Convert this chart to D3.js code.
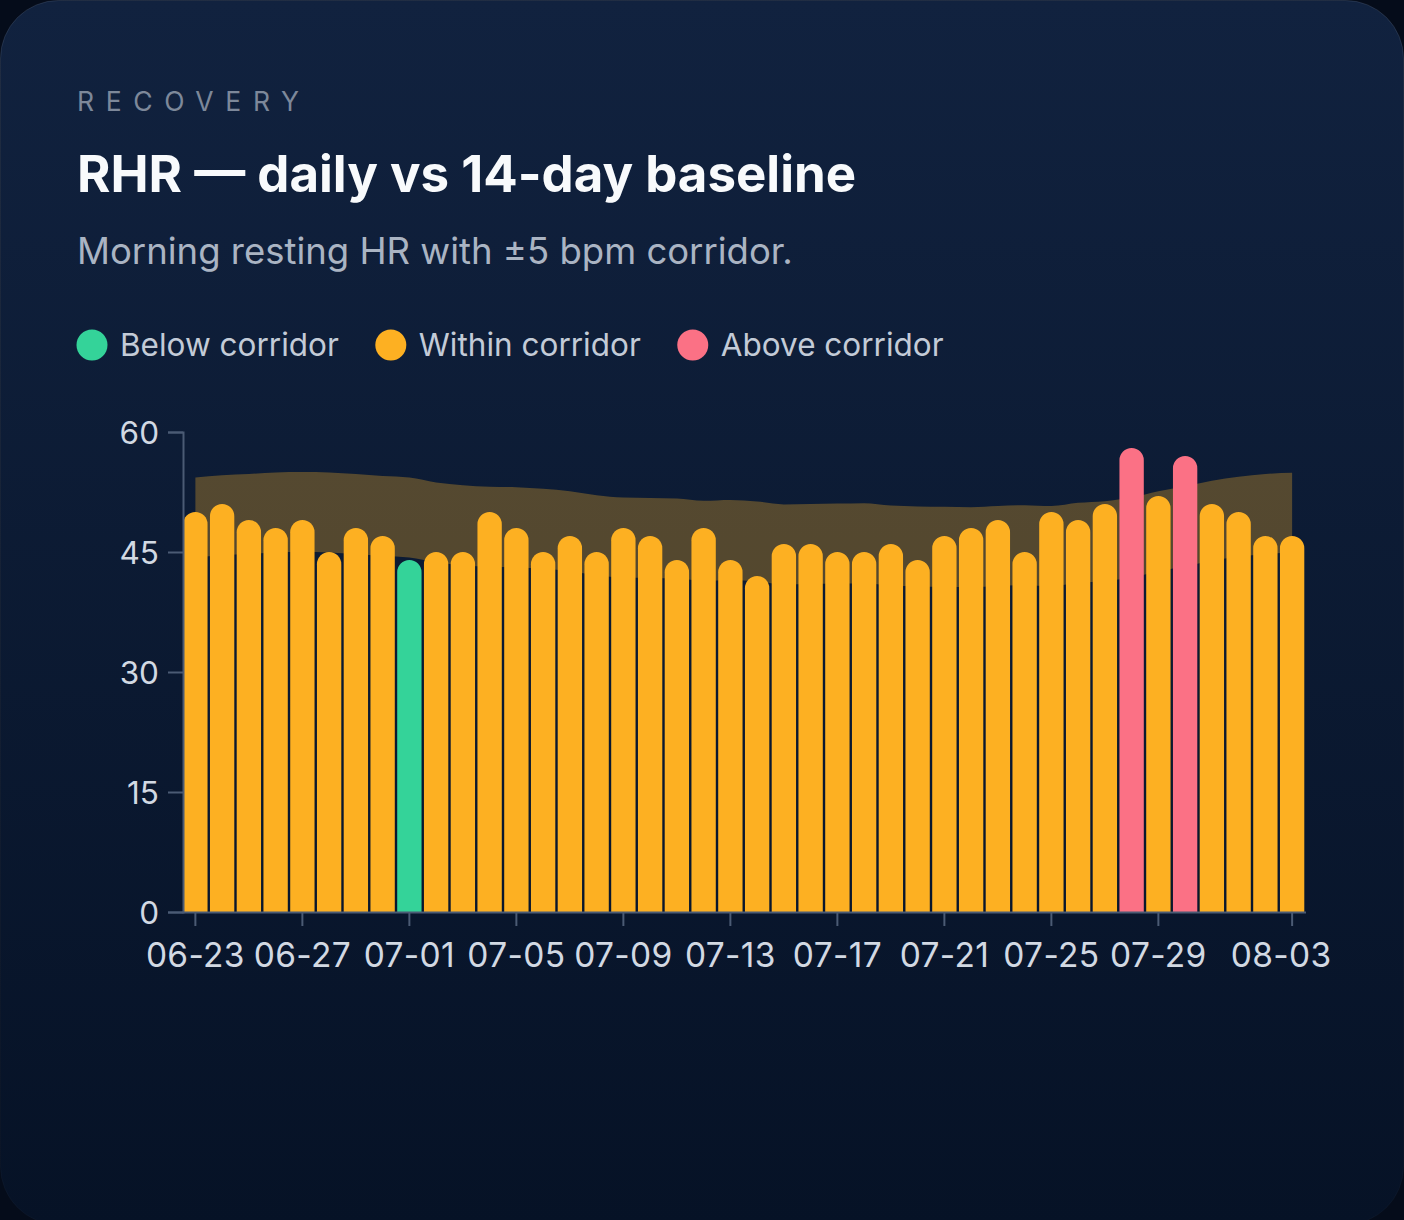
<!DOCTYPE html>
<html>
<head>
<meta charset="utf-8">
<script src="https://cdn.jsdelivr.net/npm/d3@7"></script>
<style>
  html, body { margin: 0; padding: 0; background: #050c1a; }
  svg { display: block; font-family: Inter, "Noto Sans", sans-serif; }
</style>
</head>
<body>
<svg id="chart" width="1404" height="1220"></svg>
<script>
// daily values, 06-23 .. 08-03
const days = [
  "06-23", "06-24", "06-25", "06-26", "06-27", "06-28", "06-29", "06-30",
  "07-01", "07-02", "07-03", "07-04", "07-05", "07-06", "07-07", "07-08",
  "07-09", "07-10", "07-11", "07-12", "07-13", "07-14", "07-15", "07-16",
  "07-17", "07-18", "07-19", "07-20", "07-21", "07-22", "07-23", "07-24",
  "07-25", "07-26", "07-27", "07-28", "07-29", "07-30", "07-31", "08-01",
  "08-02", "08-03",
];
const rhr = [
  50, 51, 49, 48, 49, 45, 48, 47, 44, 45, 45, 50, 48, 45, 47, 45,
  48, 47, 44, 48, 44, 42, 46, 46, 45, 45, 46, 44, 47, 48, 49, 45,
  50, 49, 51, 58, 52, 57, 51, 50, 47, 47,
];
// 14-day baseline (corridor centre)
const baseline = [
  49.3, 49.6, 49.75, 49.95, 50.0, 49.95, 49.75, 49.5, 49.3, 48.7, 48.35, 48.15,
  48.1, 47.9, 47.6, 47.1, 46.8, 46.75, 46.7, 46.4, 46.5, 46.3, 45.95, 46.0,
  46.05, 46.1, 45.8, 45.7, 45.65, 45.6, 45.75, 45.85, 45.75, 46.15, 46.35, 46.8,
  47.6, 48.2, 48.9, 49.4, 49.75, 49.9,
];
const corridor = 5;
const xTicks = ["06-23", "06-27", "07-01", "07-05", "07-09", "07-13", "07-17", "07-21", "07-25", "07-29", "08-03"];
const yTicks = [0, 15, 30, 45, 60];

const legendItems = [
  { key: "below", label: "Below corridor" },
  { key: "within", label: "Within corridor" },
  { key: "above", label: "Above corridor" },
];
const zoneColor = { below: "#34d399", within: "#fdb022", above: "#fb7185" };

const svg = d3.select("#chart");
const width = 1404, height = 1220;

// card background
const defs = svg.append("defs");
const grad = defs.append("linearGradient")
  .attr("id", "cardBg").attr("x1", 0).attr("y1", 0).attr("x2", 0).attr("y2", 1);
grad.append("stop").attr("offset", "0%").attr("stop-color", "#11223f");
grad.append("stop").attr("offset", "100%").attr("stop-color", "#061226");

const edge = defs.append("linearGradient")
  .attr("id", "cardEdge").attr("x1", 0).attr("y1", 0).attr("x2", 0).attr("y2", 1);
edge.append("stop").attr("offset", "0%").attr("stop-color", "rgba(148,163,184,0.16)");
edge.append("stop").attr("offset", "100%").attr("stop-color", "rgba(148,163,184,0.03)");

svg.append("rect")
  .attr("x", 0.5).attr("y", 0.5)
  .attr("width", width - 1).attr("height", height + 4)
  .attr("rx", 58)
  .attr("fill", "url(#cardBg)")
  .attr("stroke", "url(#cardEdge)");

// header
svg.append("text")
  .attr("x", 77).attr("y", 111)
  .attr("fill", "#7d889a")
  .attr("font-size", 26.5)
  .attr("letter-spacing", "0.44em")
  .text("RECOVERY");

svg.append("text")
  .attr("x", 77).attr("y", 192)
  .attr("fill", "#f8fafc")
  .attr("font-size", 51)
  .attr("font-weight", 700)
  .text("RHR — daily vs 14-day baseline");

svg.append("text")
  .attr("x", 77).attr("y", 264)
  .attr("fill", "#aab4c3")
  .attr("font-size", 36.5)
  .text("Morning resting HR with ±5 bpm corridor.");

// legend
const legend = svg.append("g").attr("transform", "translate(77,345)");
let lx = 0;
legendItems.forEach((d) => {
  const g = legend.append("g").attr("transform", `translate(${lx},0)`);
  g.append("circle").attr("cx", 15).attr("cy", 0).attr("r", 15.5).attr("fill", zoneColor[d.key]);
  const t = g.append("text")
    .attr("x", 43).attr("y", 11)
    .attr("fill", "#c3cbd7")
    .attr("font-size", 31.5)
    .text(d.label);
  lx += 43 + t.node().getComputedTextLength() + 37;
});

// scales
const x = d3.scaleBand().domain(days).range([182, 1305.5]).paddingInner(0.09).paddingOuter(0.045);
const y = d3.scaleLinear().domain([0, 60]).range([912, 432]);
const cx = (d) => x(d) + x.bandwidth() / 2;

const data = days.map((d, i) => {
  const v = rhr[i], b = baseline[i];
  const zone = v < b - corridor ? "below" : v > b + corridor ? "above" : "within";
  return { day: d, value: v, base: b, zone };
});

// corridor band
const area = d3.area()
  .x((d) => cx(d.day))
  .y0((d) => y(d.base - corridor))
  .y1((d) => y(d.base + corridor))
  .curve(d3.curveMonotoneX);

svg.append("path")
  .datum(data)
  .attr("d", area)
  .attr("fill", "#fbb426")
  .attr("fill-opacity", 0.3);

// bars with rounded tops
function barPath(d) {
  const x0 = x(d.day), w = x.bandwidth(), r = w / 2;
  const yt = y(d.value), yb = y(0);
  return `M${x0},${yb}V${yt + r}A${r},${r} 0 0 1 ${x0 + w},${yt + r}V${yb}Z`;
}

svg.append("g")
  .selectAll("path")
  .data(data)
  .join("path")
  .attr("d", barPath)
  .attr("fill", (d) => zoneColor[d.zone]);

// axes
const axisColor = "#4b5b74";
const labelColor = "#d2d9e3";

const yAxis = svg.append("g")
  .attr("transform", "translate(183,0)")
  .call(d3.axisLeft(y).tickValues(yTicks).tickSize(15).tickPadding(9));

const xAxis = svg.append("g")
  .attr("transform", "translate(0,912)")
  .call(d3.axisBottom(x).tickValues(xTicks).tickSize(14).tickSizeOuter(0).tickPadding(16));

[yAxis, xAxis].forEach((a) => {
  a.selectAll("path, line").attr("stroke", axisColor).attr("stroke-width", 2);
  a.selectAll("text").attr("fill", labelColor).attr("font-family", "Inter, sans-serif");
});
yAxis.selectAll("text").attr("font-size", 31.5).attr("dy", "0.36em");
xAxis.selectAll("text").attr("font-size", 33.5).attr("dy", "0.75em").attr("letter-spacing", "0.01em");
xAxis.selectAll(".tick").filter((d) => d === "08-03").select("text").attr("dx", -11);
</script>
</body>
</html>
